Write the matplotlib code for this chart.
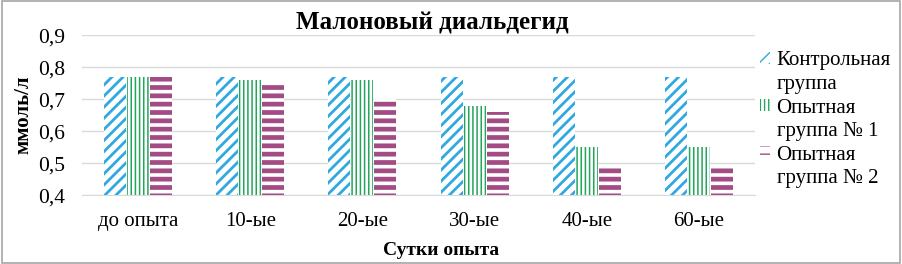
import matplotlib
matplotlib.use("Agg")
import matplotlib.pyplot as plt
from matplotlib.patches import Rectangle
import numpy as np

# Data
days = ["до опыта", "10-ые", "20-ые", "30-ые", "40-ые", "60-ые"]
control = [0.77, 0.77, 0.77, 0.77, 0.77, 0.77]
group1 = [0.77, 0.76, 0.76, 0.68, 0.55, 0.55]
group2 = [0.77, 0.75, 0.70, 0.66, 0.49, 0.49]
series_names = [("Контрольная", "группа"), ("Опытная", "группа № 1"), ("Опытная", "группа № 2")]

colors = ["#2FA9E0", "#22A65C", "#A24B84"]
hatches = ["///", "||||", "--"]
hatch_lw = [2.0, 1.1, 3.4]

plt.rcParams['font.family'] = ['Liberation Serif', 'DejaVu Serif']

fig = plt.figure(figsize=(9.02, 2.64), dpi=100)
ax = fig.add_axes([0.091, 0.261, 0.746, 0.606])

x = np.arange(len(days))
width = 0.196
step = 0.205
containers = []
for i, vals in enumerate([control, group1, group2]):
    with plt.rc_context({'hatch.linewidth': hatch_lw[i]}):
        b = ax.bar(x + (i - 1) * step, np.array(vals) - 0.4, width, bottom=0.4,
                   facecolor="white", edgecolor=colors[i], hatch=hatches[i],
                   linewidth=0, zorder=2)
    for p in b:
        if hasattr(p, "set_hatch_linewidth"):
            p.set_hatch_linewidth(hatch_lw[i])
    containers.append(b)

ax.set_xlim(-0.5, len(days) - 0.5)
ax.set_ylim(0.4, 0.9)
ax.set_yticks([0.4, 0.5, 0.6, 0.7, 0.8, 0.9])
ax.set_yticklabels(["0,4", "0,5", "0,6", "0,7", "0,8", "0,9"], fontsize=15.5)
ax.set_xticks(x)
ax.set_xticklabels(days, fontsize=15)
ax.tick_params(axis="y", length=0, pad=12)
ax.tick_params(axis="x", length=0, pad=12)
ax.yaxis.grid(True, color="#d9d9d9", linewidth=1, zorder=0)
ax.set_axisbelow(True)
for s in ["top", "right", "left"]:
    ax.spines[s].set_visible(False)
ax.spines["bottom"].set_color("#d9d9d9")

ax.set_ylabel("ммоль/л", fontsize=15, fontweight="bold")
ax.yaxis.set_label_coords(-0.072, 0.5)
ax.set_xlabel("Сутки опыта", fontsize=14, fontweight="bold", labelpad=8, x=0.533)
ax.set_title("Малоновый диальдегид", fontsize=18, fontweight="bold", pad=4, x=0.52)

# legend: first line of each label carries the swatch, second line has none
handles, labels = [], []
for i, (l1, l2) in enumerate(series_names):
    h = containers[i][0]
    handles += [h, Rectangle((0, 0), 1, 1, visible=False)]
    labels += [l1, l2]
leg = ax.legend(handles, labels, loc="upper left", bbox_to_anchor=(0.995, 0.95),
                frameon=False, fontsize=15, handlelength=0.5, handleheight=0.5,
                handletextpad=0.3, labelspacing=0.22, borderaxespad=0.0)

fig.patches.append(Rectangle((0.002, 0.004), 0.996, 0.992, transform=fig.transFigure,
                             fill=False, edgecolor="#a6a6a6", linewidth=1.2))

fig.savefig("out.png", dpi=100)
